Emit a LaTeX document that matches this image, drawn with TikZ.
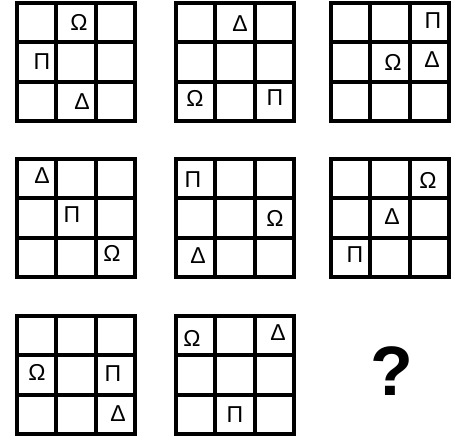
\documentclass[tikz,border=0pt]{standalone}
\usepackage{fontspec}
\setmainfont{Liberation Sans}
\begin{document}
\begin{tikzpicture}[x=1pt,y=-1pt,
  gridline/.style={line width=3.8pt, line cap=rect},
  sym/.style={font=\fontsize{23}{23}\selectfont, inner sep=0pt},
  qmark/.style={font=\fontsize{70}{70}\selectfont\bfseries, inner sep=0pt}]
\useasboundingbox (0,0) rectangle (458,441);
\foreach \gx/\gy in {17/3, 176/3, 331/3, 17/159, 176/159, 331/159, 17/316, 176/316}{
  \draw[gridline] (\gx,\gy) rectangle ++(118,118);
  \draw[gridline] (\gx+39.33,\gy) -- ++(0,118);
  \draw[gridline] (\gx+78.67,\gy) -- ++(0,118);
  \draw[gridline] (\gx,\gy+39.33) -- ++(118,0);
  \draw[gridline] (\gx,\gy+78.67) -- ++(118,0);
}
% grid 1
\node[sym] (a1) at (79,22) {Ω};
\node[sym] (a2) at (42,62) {Π};
\node[sym] (a3) at (82,102) {Δ};
% grid 2
\node[sym] (b1) at (240,24) {Δ};
\node[sym] (b2) at (195,98) {Ω};
\node[sym] (b3) at (275,98) {Π};
% grid 3
\node[sym] (c1) at (433,21) {Π};
\node[sym] (c2) at (393,62) {Ω};
\node[sym] (c3) at (432,60) {Δ};
% grid 4
\node[sym] (d1) at (42,176) {Δ};
\node[sym] (d2) at (72,215) {Π};
\node[sym] (d3) at (112,253) {Ω};
% grid 5
\node[sym] (e1) at (193,180) {Π};
\node[sym] (e2) at (275,218) {Ω};
\node[sym] (e3) at (198,256) {Δ};
% grid 6
\node[sym] (f1) at (428,180) {Ω};
\node[sym] (f2) at (392,217) {Δ};
\node[sym] (f3) at (355,255) {Π};
% grid 7
\node[sym] (g1) at (37,372) {Ω};
\node[sym] (g2) at (113,374) {Π};
\node[sym] (g3) at (118,414) {Δ};
% grid 8
\node[sym] (h1) at (192,338) {Ω};
\node[sym] (h2) at (278,333) {Δ};
\node[sym] (h3) at (235,415) {Π};
% question
\node[qmark] (q) at (392,371) {?};
\end{tikzpicture}
\end{document}
